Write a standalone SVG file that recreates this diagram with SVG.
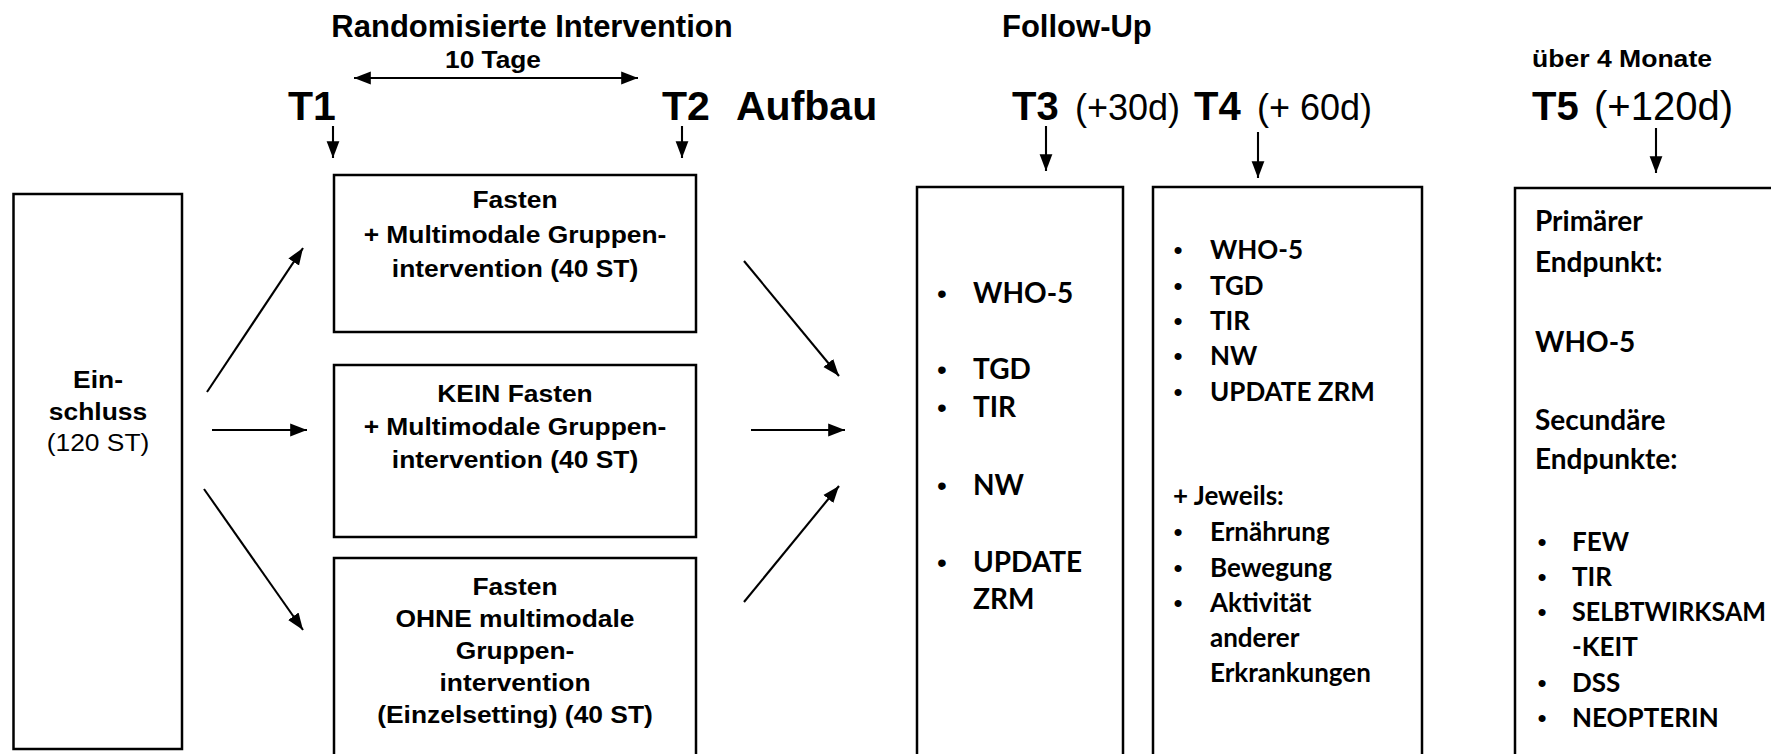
<svg xmlns="http://www.w3.org/2000/svg" width="1771" height="754" viewBox="0 0 1771 754">
<defs>
<marker id="ah" viewBox="0 0 10 10" refX="10" refY="5" markerWidth="8" markerHeight="8" orient="auto-start-reverse" markerUnits="strokeWidth"><path d="M0,1.2 L10,5 L0,8.8 z" fill="#000"/></marker>
<style>
.box{fill:#fff;stroke:#000;stroke-width:2.5}
.con{stroke:#000;stroke-width:2.1;fill:none;marker-end:url(#ah)}
.ab{font-family:"Liberation Sans",Arial,sans-serif;font-weight:bold;fill:#000}
.ar{font-family:"Liberation Sans",Arial,sans-serif;font-weight:normal;fill:#000}
.cb{font-family:Lato,"Open Sans",sans-serif;font-weight:bold;fill:#000}
.bu{font-family:"Liberation Sans",Arial,sans-serif;fill:#000;text-anchor:middle}
.mid{text-anchor:middle}
</style>
</defs>
<rect x="0" y="0" width="1771" height="754" fill="#fff"/>

<g id="header">
<text class="ab mid" x="532" y="37" font-size="31">Randomisierte Intervention</text>
<text class="ab mid" x="493" y="68" font-size="23" textLength="96" lengthAdjust="spacingAndGlyphs">10 Tage</text>
<text class="ab" x="1002" y="37" font-size="31">Follow-Up</text>
<text class="ab" x="1532" y="67" font-size="23" textLength="180" lengthAdjust="spacingAndGlyphs">über 4 Monate</text>
<text class="ab" x="288" y="120" font-size="41">T1</text>
<text class="ab" x="662" y="120" font-size="41">T2</text>
<text class="ab" x="736" y="120" font-size="41">Aufbau</text>
<text class="ab" x="1012" y="120" font-size="40">T3</text>
<text class="ar" x="1075" y="120" font-size="36">(+30d)</text>
<text class="ab" x="1194" y="120" font-size="40">T4</text>
<text class="ar" x="1257" y="120" font-size="36">(+ 60d)</text>
<text class="ab" x="1532" y="120" font-size="40">T5</text>
<text class="ar" x="1594" y="120" font-size="40">(+120d)</text>
</g>

<g id="einschluss">
<rect class="box" x="13.5" y="194" width="168.5" height="555"/>
<g transform="translate(98,0) scale(1.1,1)">
<text class="ab mid" x="0" y="388" font-size="24">Ein-</text>
<text class="ab mid" x="0" y="420" font-size="24">schluss</text>
<text class="ar mid" x="0" y="451" font-size="24">(120 ST)</text>
</g>
</g>

<g id="gruppe1">
<rect class="box" x="334" y="175" width="362" height="157"/>
<g transform="translate(515,0) scale(1.1,1)">
<text class="ab mid" x="0" y="208" font-size="24">Fasten</text>
<text class="ab mid" x="0" y="243" font-size="24">+ Multimodale Gruppen-</text>
<text class="ab mid" x="0" y="277" font-size="24">intervention (40 ST)</text>
</g>
</g>

<g id="gruppe2">
<rect class="box" x="334" y="365" width="362" height="172"/>
<g transform="translate(515,0) scale(1.1,1)">
<text class="ab mid" x="0" y="402" font-size="24">KEIN Fasten</text>
<text class="ab mid" x="0" y="435" font-size="24">+ Multimodale Gruppen-</text>
<text class="ab mid" x="0" y="468" font-size="24">intervention (40 ST)</text>
</g>
</g>

<g id="gruppe3">
<rect class="box" x="334" y="558" width="362" height="220"/>
<g transform="translate(515,0) scale(1.1,1)">
<text class="ab mid" x="0" y="595" font-size="24">Fasten</text>
<text class="ab mid" x="0" y="627" font-size="24">OHNE multimodale</text>
<text class="ab mid" x="0" y="659" font-size="24">Gruppen-</text>
<text class="ab mid" x="0" y="691" font-size="24">intervention</text>
<text class="ab mid" x="0" y="723" font-size="24">(Einzelsetting) (40 ST)</text>
</g>
</g>

<g id="t3box">
<rect class="box" x="917" y="187" width="206" height="600"/>
<text class="bu" x="942" y="303" font-size="28">•</text><text class="cb" x="973" y="303" font-size="28">WHO-5</text>
<text class="bu" x="942" y="379" font-size="28">•</text><text class="cb" x="973" y="379" font-size="28">TGD</text>
<text class="bu" x="942" y="417" font-size="28">•</text><text class="cb" x="973" y="417" font-size="28">TIR</text>
<text class="bu" x="942" y="495" font-size="28">•</text><text class="cb" x="973" y="495" font-size="28">NW</text>
<text class="bu" x="942" y="572" font-size="28">•</text><text class="cb" x="973" y="572" font-size="28">UPDATE</text>
<text class="cb" x="973" y="609" font-size="28">ZRM</text>
</g>

<g id="t4box">
<rect class="box" x="1153" y="187" width="269" height="600"/>
<text class="bu" x="1178" y="259" font-size="26">•</text><text class="cb" x="1210" y="259" font-size="26">WHO-5</text>
<text class="bu" x="1178" y="295" font-size="26">•</text><text class="cb" x="1210" y="295" font-size="26">TGD</text>
<text class="bu" x="1178" y="330" font-size="26">•</text><text class="cb" x="1210" y="330" font-size="26">TIR</text>
<text class="bu" x="1178" y="365" font-size="26">•</text><text class="cb" x="1210" y="365" font-size="26">NW</text>
<text class="bu" x="1178" y="401" font-size="26">•</text><text class="cb" x="1210" y="401" font-size="26">UPDATE ZRM</text>
<text class="cb" x="1173" y="505" font-size="26">+ Jeweils:</text>
<text class="bu" x="1178" y="541" font-size="26">•</text><text class="cb" x="1210" y="541" font-size="26">Ernährung</text>
<text class="bu" x="1178" y="577" font-size="26">•</text><text class="cb" x="1210" y="577" font-size="26">Bewegung</text>
<text class="bu" x="1178" y="612" font-size="26">•</text><text class="cb" x="1210" y="612" font-size="26">Aktivität</text>
<text class="cb" x="1210" y="647" font-size="26">anderer</text>
<text class="cb" x="1210" y="682" font-size="26">Erkrankungen</text>
</g>

<g id="t5box">
<rect class="box" x="1515" y="188" width="300" height="600"/>
<text class="cb" x="1535" y="231" font-size="28">Primärer</text>
<text class="cb" x="1535" y="272" font-size="28">Endpunkt:</text>
<text class="cb" x="1535" y="352" font-size="28">WHO-5</text>
<text class="cb" x="1535" y="430" font-size="28">Secundäre</text>
<text class="cb" x="1535" y="469" font-size="28">Endpunkte:</text>
<text class="bu" x="1542" y="551" font-size="26">•</text><text class="cb" x="1572" y="551" font-size="26">FEW</text>
<text class="bu" x="1542" y="586" font-size="26">•</text><text class="cb" x="1572" y="586" font-size="26">TIR</text>
<text class="bu" x="1542" y="621" font-size="26">•</text><text class="cb" x="1572" y="621" font-size="26" textLength="194" lengthAdjust="spacingAndGlyphs">SELBTWIRKSAM</text>
<text class="cb" x="1572" y="656" font-size="26">-KEIT</text>
<text class="bu" x="1542" y="692" font-size="26">•</text><text class="cb" x="1572" y="692" font-size="26">DSS</text>
<text class="bu" x="1542" y="727" font-size="26">•</text><text class="cb" x="1572" y="727" font-size="26">NEOPTERIN</text>
</g>

<g id="connectors">
<line class="con" x1="354" y1="78" x2="638" y2="78" marker-start="url(#ah)"/>
<line class="con" x1="333" y1="126" x2="333" y2="158"/>
<line class="con" x1="682" y1="126" x2="682" y2="158"/>
<line class="con" x1="1046" y1="126" x2="1046" y2="171"/>
<line class="con" x1="1258" y1="132" x2="1258" y2="178"/>
<line class="con" x1="1656" y1="128" x2="1656" y2="173"/>
<line class="con" x1="207" y1="392" x2="303" y2="248"/>
<line class="con" x1="212" y1="430" x2="307" y2="430"/>
<line class="con" x1="204" y1="489" x2="303" y2="630"/>
<line class="con" x1="744" y1="261" x2="839" y2="376"/>
<line class="con" x1="751" y1="430" x2="845" y2="430"/>
<line class="con" x1="744" y1="602" x2="839" y2="486"/>
</g>
</svg>
